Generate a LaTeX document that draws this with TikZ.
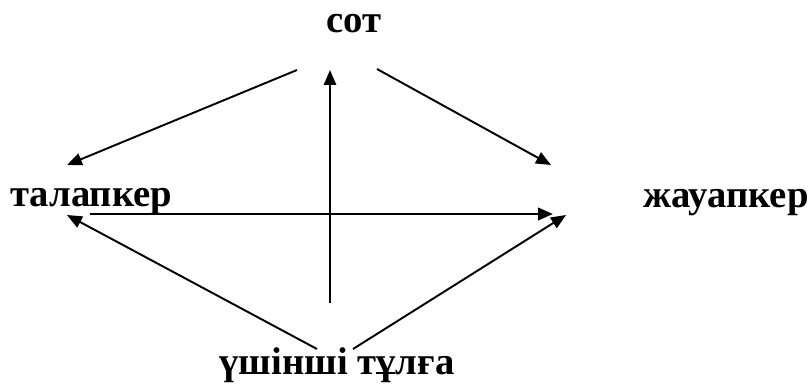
\documentclass[tikz,border=0pt]{standalone}
\usepackage{fontspec}
\setmainfont{Liberation Serif}
\usetikzlibrary{arrows.meta, positioning}

\tikzset{
  party/.style={font=\fontsize{22}{24}\selectfont\bfseries, inner sep=0pt},
  link/.style={line width=1.1pt, -{Triangle[length=8.5pt, width=7pt]}}
}

\begin{document}
\begin{tikzpicture}[x=0.02cm, y=-0.02cm]
  \useasboundingbox (0,0) rectangle (808,383);
  \clip (0,0) rectangle (808,383);
  % Parties
  \node[party, anchor=base] (sot) at (354, 32) {сот};
  \node[party, anchor=base west] (talapker) at (10, 206) {талапкер};
  \node[party, anchor=base west] (zhauapker) at (643, 207) {жауапкер};
  \node[party, anchor=base] (tulga) at (337, 374) {үшінші тұлға};
  % Free ends of the arrows
  \coordinate (sotL) at (297, 70);
  \coordinate (sotR) at (377, 69);
  \coordinate (sotIn) at (330, 70);
  \coordinate (talIn) at (67, 165);
  \coordinate (talOut) at (90, 214);
  \coordinate (talLow) at (67, 215);
  \coordinate (zhIn) at (551, 165);
  \coordinate (zhMid) at (553, 214);
  \coordinate (zhLow) at (566, 215);
  \coordinate (tulL) at (317, 349);
  \coordinate (tulM) at (330, 303);
  \coordinate (tulR) at (353, 349);
  % Arrows
  \draw[link] (sotL) -- (talIn);
  \draw[link] (sotR) -- (zhIn);
  \draw[link, line width=1.6pt] (talOut) -- (zhMid);
  \draw[link] (tulM) -- (sotIn);
  \draw[link] (tulL) -- (talLow);
  \draw[link] (tulR) -- (zhLow);
\end{tikzpicture}
\end{document}
